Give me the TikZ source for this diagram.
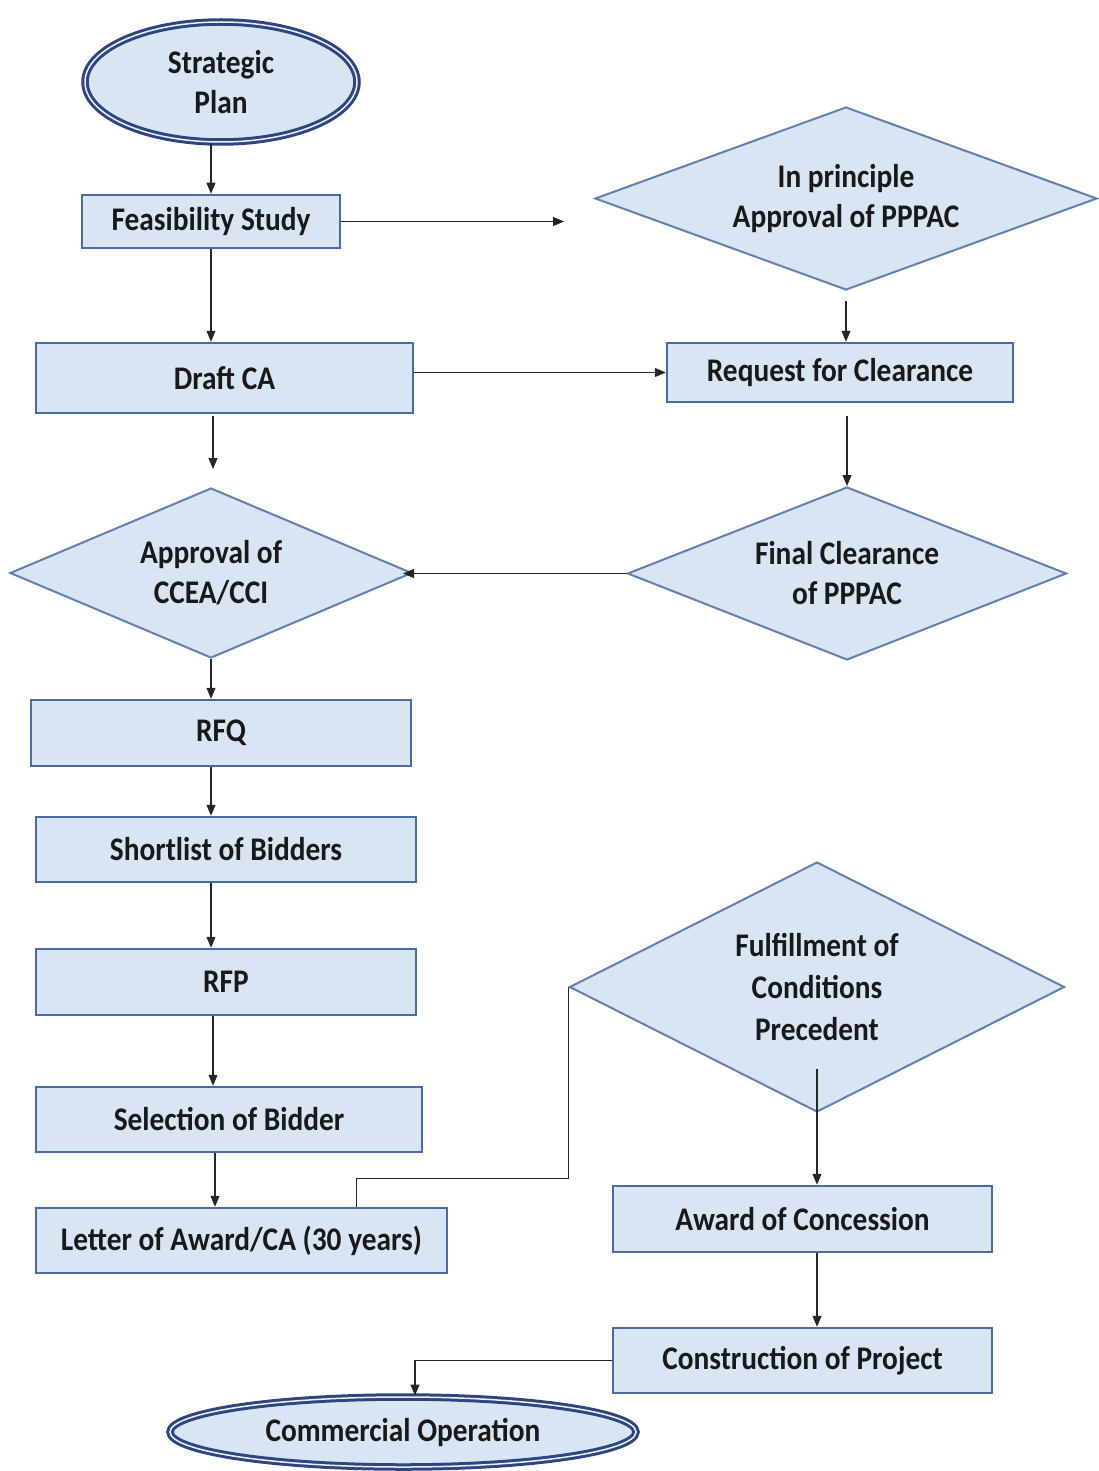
\documentclass[tikz,border=0pt]{standalone}
\usepackage{fontspec}
\setmainfont{Carlito}[FakeStretch=0.89]
\usetikzlibrary{shapes.geometric,arrows.meta,calc}
\definecolor{boxfill}{HTML}{D8E5F3}
\definecolor{boxline}{HTML}{4C6AA6}
\definecolor{dialine}{HTML}{6580B0}
\definecolor{ellline}{HTML}{2F4582}
\begin{document}
\begin{tikzpicture}[x=1pt,y=-1pt,
  every node/.style={font=\fontsize{33}{40}\selectfont\bfseries, text=black!90, align=center, inner sep=0pt},
  procbox/.style={rectangle, draw=boxline, line width=2.5pt, fill=boxfill},
  decis/.style={diamond, draw=dialine, line width=2pt, fill=boxfill},
  term/.style={ellipse, draw=ellline, line width=3pt, double=boxfill!50!white, double distance=1.5pt, fill=boxfill},
  arr/.style={-{Triangle[length=11pt,width=9pt]}, line width=1.2pt, black!85},
  link/.style={line width=1.2pt, black!85}]
\useasboundingbox (0,0) rectangle (1099,1471);

\node[term, minimum width=272pt, minimum height=120pt] (sp) at (221,82) {Strategic\\Plan};
\node[procbox, minimum width=258pt, minimum height=53pt] (fs) at (211,221.5) {Feasibility Study};
\node[decis, shape aspect=2.74, minimum width=502pt, minimum height=183pt] (ip) at (846,198.5) {In principle\\Approval of PPPAC};
\node[procbox, minimum width=377pt, minimum height=70pt] (dca) at (224.5,378) {Draft CA};
\node[procbox, minimum width=346pt, minimum height=59pt] (rc) at (840,372.5) {Request for Clearance};
\node[decis, shape aspect=2.36, minimum width=402pt, minimum height=170pt] (acc) at (211,573) {Approval of\\CCEA/CCI};
\node[decis, shape aspect=2.54, minimum width=439pt, minimum height=173pt] (fcp) at (847,573.5) {Final Clearance\\of PPPAC};
\node[procbox, minimum width=380pt, minimum height=66pt] (rfq) at (221,733) {RFQ};
\node[procbox, minimum width=380pt, minimum height=65pt] (sb) at (226,849.5) {Shortlist of Bidders};
\node[procbox, minimum width=380pt, minimum height=66pt] (rfp) at (226,982) {RFP};
\node[procbox, minimum width=386pt, minimum height=65pt] (sel) at (229,1119.5) {Selection of Bidder};
\node[procbox, minimum width=411pt, minimum height=65pt] (loa) at (241.5,1240.5) {Letter of Award/CA (30 years)};
\node[decis, shape aspect=1.98, minimum width=495pt, minimum height=250pt, font=\fontsize{33}{42}\selectfont\bfseries] (fcond) at (817,987) {Fulfillment of\\Conditions\\Precedent};
\node[procbox, minimum width=379pt, minimum height=66pt] (aoc) at (802.5,1219) {Award of Concession};
\node[procbox, minimum width=379pt, minimum height=65pt] (cop) at (802.5,1360.5) {Construction of Project};
\node[term, minimum width=466pt, minimum height=70pt] (co) at (403,1432) {Commercial Operation};

\coordinate (fsend) at ($(ip.west)+(-30,0)$);

\draw[arr] (fs.north |- sp.south) -- (fs.north);
\draw[arr] (fs.south) -- (fs.south |- dca.north);
\draw[arr] (fs.east) -- (fsend |- fs.east);
\draw[arr] ($(ip.south)+(0,10)$) -- (ip.south |- rc.north);
\draw[arr] (dca.east |- rc.west) -- (rc.west);
\draw[arr] ($(acc.north |- dca.south)+(2,2)$) -- ($(acc.north)+(2,-18)$);
\draw[arr] ($(fcp.north |- rc.south)+(0,13)$) -- (fcp.north);
\draw[arr] (fcp.west) -- ($(acc.east |- fcp.west)+(-10,0)$);
\draw[arr] (acc.south) -- (acc.south |- rfq.north);
\draw[arr] (rfq.south -| acc.south) -- (sb.north -| acc.south);
\draw[arr] (sb.south -| acc.south) -- (rfp.north -| acc.south);
\draw[arr] ($(rfp.south -| acc.south)+(2,0)$) -- ($(sel.north -| acc.south)+(2,0)$);
\draw[arr] ($(sel.south -| acc.south)+(4,0)$) -- ($(loa.north -| acc.south)+(4,0)$);
\draw[link] ($(loa.north)+(115,0)$) -- ++(0,-28) -| (fcond.west);
\draw[arr] ($(fcond.south)+(0,-44)$) -- (fcond.south |- aoc.north);
\draw[arr] (aoc.south -| fcond.south) -- (cop.north -| fcond.south);
\draw[arr] (cop.west) -| ($(co.north)+(12,0)$);
\end{tikzpicture}
\end{document}
